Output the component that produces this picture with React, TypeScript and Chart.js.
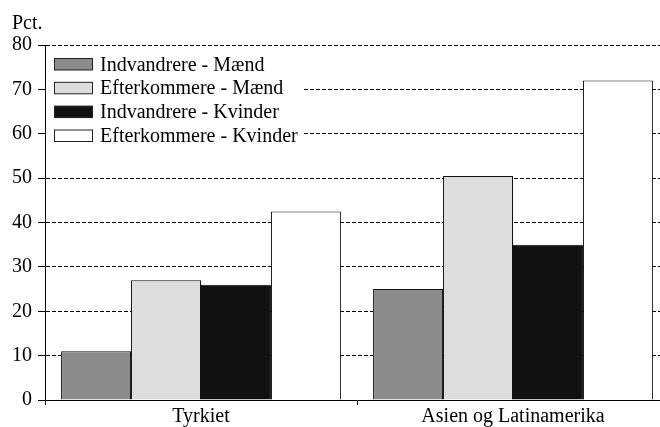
import React, { useEffect, useRef } from "react";
import { Chart, registerables } from "chart.js";

Chart.register(...registerables);

const categories = ["Tyrkiet", "Asien og Latinamerika"];
const seriesLabels = [
  "Indvandrere - Mænd",
  "Efterkommere - Mænd",
  "Indvandrere - Kvinder",
  "Efterkommere - Kvinder",
];
const indvandrereMaend = [11, 25];
const efterkommereMaend = [27, 50.5];
const indvandrereKvinder = [26, 35];
const efterkommereKvinder = [42.5, 72];
const yTicks = [0, 10, 20, 30, 40, 50, 60, 70, 80];
const colors = ["#8c8c8c", "#dddddd", "#111111", "#ffffff"];

const FONT = "'Liberation Serif', 'Times New Roman', serif";

const legendPlugin = {
  id: "customLegend",
  afterDatasetsDraw(chart: any) {
    const ctx = chart.ctx;
    ctx.save();
    ctx.fillStyle = "#ffffff";
    ctx.fillRect(46, 49, 256, 101);
    const baselines = [70.5, 94.3, 118.1, 142];
    chart.data.datasets.forEach((ds: any, i: number) => {
      const b = baselines[i];
      ctx.fillStyle = ds.backgroundColor;
      ctx.fillRect(54.5, b - 12, 38, 11.5);
      ctx.strokeStyle = "#222";
      ctx.lineWidth = 1;
      ctx.strokeRect(54.5, b - 12, 38, 11.5);
      ctx.fillStyle = "#000";
      ctx.font = `20px ${FONT}`;
      ctx.textBaseline = "alphabetic";
      ctx.textAlign = "left";
      ctx.fillText(ds.label, 100, b);
    });
    ctx.restore();
  },
  afterDraw(chart: any) {
    const ctx = chart.ctx;
    ctx.save();
    ctx.fillStyle = "#000";
    ctx.font = `20px ${FONT}`;
    ctx.textBaseline = "alphabetic";
    ctx.textAlign = "left";
    ctx.fillText("Pct.", 12, 29);
    ctx.restore();
  },
};

export default function App() {
  const ref = useRef<HTMLCanvasElement | null>(null);
  useEffect(() => {
    if (!ref.current) return;
    const values = [indvandrereMaend, efterkommereMaend, indvandrereKvinder, efterkommereKvinder];
    const chart = new Chart(ref.current, {
      type: "bar",
      data: {
        labels: categories,
        datasets: seriesLabels.map((label, i) => ({
          label,
          data: values[i],
          backgroundColor: colors[i],
          borderColor: "#111",
          borderWidth: 1,
          borderSkipped: "bottom",
          categoryPercentage: 0.897,
          barPercentage: 1,
        })),
      },
      options: {
        responsive: false,
        animation: false,
        devicePixelRatio: 1,
        layout: { padding: { top: 45, right: 21, bottom: 0, left: 0 } },
        plugins: {
          legend: { display: false },
          tooltip: { enabled: false },
          title: { display: false },
        },
        scales: {
          x: {
            offset: true,
            grid: {
              offset: true,
              drawOnChartArea: false,
              drawTicks: true,
              tickLength: 5,
              color: "#000",
            },
            border: { color: "#000", width: 1 },
            ticks: {
              color: "#000",
              font: { family: FONT, size: 20 },
              padding: 0,
              maxRotation: 0,
            },
            afterFit(scale: any) {
              scale.height = 27;
            },
          },
          y: {
            min: 0,
            max: 80,
            afterBuildTicks(scale: any) {
              scale.ticks = yTicks.map((v) => ({ value: v }));
            },
            grid: {
              color: "#000",
              lineWidth: 1,
              tickLength: 7,
              tickColor: "#000",
              tickBorderDash: [],
            } as any,
            border: { color: "#000", width: 1, dash: [4, 2] } as any,
            ticks: {
              color: "#000",
              font: { family: FONT, size: 20 },
              padding: 6,
            },
            afterFit(scale: any) {
              scale.width = 45;
            },
          },
        },
      },
      plugins: [legendPlugin],
    } as any);
    return () => chart.destroy();
  }, []);
  return (
    <div
      style={{
        position: "fixed",
        left: 0,
        top: 0,
        width: 660,
        height: 427,
        overflow: "hidden",
        background: "#fff",
      }}
    >
      <canvas ref={ref} width={690} height={427} style={{ display: "block" }} />
    </div>
  );
}
